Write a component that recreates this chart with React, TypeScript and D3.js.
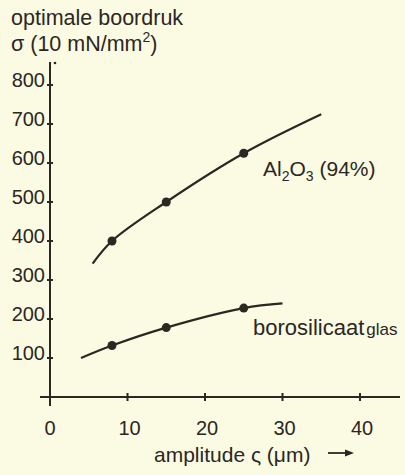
import React, { useEffect, useRef } from "react";
import * as d3 from "d3";

// values
const xTicks = [0, 10, 20, 30, 40];
const yTicks = [100, 200, 300, 400, 500, 600, 700, 800];

// Al2O3 (94%) curve and measured points
const aluCurveX = [5.5, 8, 15, 25, 35];
const aluCurveY = [342, 400, 500, 625, 725];
const aluDotsX = [8, 15, 25];
const aluDotsY = [400, 500, 625];

// borosilicaat glas curve and measured points
const boroCurveX = [4, 8, 15, 25, 30];
const boroCurveY = [100, 132, 178, 228, 240];
const boroDotsX = [8, 15, 25];
const boroDotsY = [132, 178, 228];

const W = 405;
const H = 475;
const ink = "#2b2723";
const paper = "#fbfae2";
const font = "'Liberation Sans', Arial, sans-serif";

export default function App() {
  const ref = useRef<SVGSVGElement>(null);

  useEffect(() => {
    document.body.style.margin = "0";
    document.body.style.background = paper;
    const svg = d3.select(ref.current);
    svg.selectAll("*").remove();

    const x = d3.scaleLinear().domain([0, 40]).range([50, 360]);
    const y = d3.scaleLinear().domain([0, 800]).range([397, 85]);

    svg.append("rect").attr("width", W).attr("height", H).attr("fill", paper);

    const g = svg.append("g").attr("font-family", font).attr("fill", ink);

    // axes lines
    g.append("line")
      .attr("x1", x(0)).attr("x2", x(0))
      .attr("y1", 62).attr("y2", 406)
      .attr("stroke", ink).attr("stroke-width", 2);
    g.append("line")
      .attr("x1", 40).attr("x2", 400)
      .attr("y1", y(0)).attr("y2", y(0))
      .attr("stroke", ink).attr("stroke-width", 2);
    g.append("circle").attr("cx", 55).attr("cy", 63).attr("r", 1.3).attr("fill", ink);

    // y ticks
    g.selectAll(".yt")
      .data(yTicks)
      .enter()
      .append("line")
      .attr("x1", x(0) - 3).attr("x2", x(0) + 3)
      .attr("y1", d => y(d)).attr("y2", d => y(d))
      .attr("stroke", ink).attr("stroke-width", 2);
    g.selectAll(".yl")
      .data(yTicks)
      .enter()
      .append("text")
      .attr("x", 45)
      .attr("y", d => y(d) + 1.5)
      .attr("text-anchor", "end")
      .attr("font-size", 20)
      .text(d => d);

    // x ticks
    g.selectAll(".xt")
      .data(xTicks.slice(1))
      .enter()
      .append("line")
      .attr("x1", d => x(d)).attr("x2", d => x(d))
      .attr("y1", y(0) - 4).attr("y2", y(0) + 4)
      .attr("stroke", ink).attr("stroke-width", 2);
    g.selectAll(".xl")
      .data(xTicks)
      .enter()
      .append("text")
      .attr("x", d => x(d) + (d === 0 ? 0 : 2))
      .attr("y", 435)
      .attr("text-anchor", "middle")
      .attr("font-size", 20)
      .text(d => d);

    // curves
    const line = d3.line<[number, number]>()
      .x(d => x(d[0]))
      .y(d => y(d[1]))
      .curve(d3.curveCatmullRom.alpha(0.5));
    const aluPts = aluCurveX.map((v, i) => [v, aluCurveY[i]] as [number, number]);
    const boroPts = boroCurveX.map((v, i) => [v, boroCurveY[i]] as [number, number]);
    g.append("path").attr("d", line(aluPts)).attr("fill", "none")
      .attr("stroke", ink).attr("stroke-width", 2.2);
    g.append("path").attr("d", line(boroPts)).attr("fill", "none")
      .attr("stroke", ink).attr("stroke-width", 2.2);

    g.selectAll(".ad")
      .data(aluDotsX)
      .enter()
      .append("circle")
      .attr("cx", d => x(d))
      .attr("cy", (d, i) => y(aluDotsY[i]))
      .attr("r", 4.5);
    g.selectAll(".bd")
      .data(boroDotsX)
      .enter()
      .append("circle")
      .attr("cx", d => x(d))
      .attr("cy", (d, i) => y(boroDotsY[i]))
      .attr("r", 4.5);

    // titles
    g.append("text").attr("x", 11).attr("y", 25).attr("font-size", 21.5)
      .text("optimale boordruk");
    const t2 = g.append("text").attr("x", 11).attr("y", 51).attr("font-size", 21.5);
    t2.append("tspan").text("σ (10 mN/mm");
    t2.append("tspan").attr("dy", -9).attr("font-size", 14).text("2");
    t2.append("tspan").attr("dy", 9).text(")");

    // series labels
    const al = g.append("text").attr("x", 263).attr("y", 176).attr("font-size", 21);
    al.append("tspan").text("Al");
    al.append("tspan").attr("dy", 5).attr("font-size", 14).text("2");
    al.append("tspan").attr("dy", -5).text("O");
    al.append("tspan").attr("dy", 5).attr("font-size", 14).text("3");
    al.append("tspan").attr("dy", -5).text(" (94%)");

    const bo = g.append("text").attr("x", 253).attr("y", 335).attr("font-size", 22);
    bo.append("tspan").text("borosilicaat");
    bo.append("tspan").attr("font-size", 17).attr("dx", 2).text("glas");

    // x axis label with arrow
    g.append("text").attr("x", 154).attr("y", 462).attr("font-size", 21)
      .text("amplitude ς (μm)");
    g.append("line")
      .attr("x1", 328).attr("x2", 347)
      .attr("y1", 453).attr("y2", 453)
      .attr("stroke", ink).attr("stroke-width", 1.8);
    g.append("path").attr("d", "M345,449.5 L354,453 L345,456.5 Z").attr("fill", ink);
  }, []);

  return <svg ref={ref} width={W} height={H} style={{ display: "block" }} />;
}
